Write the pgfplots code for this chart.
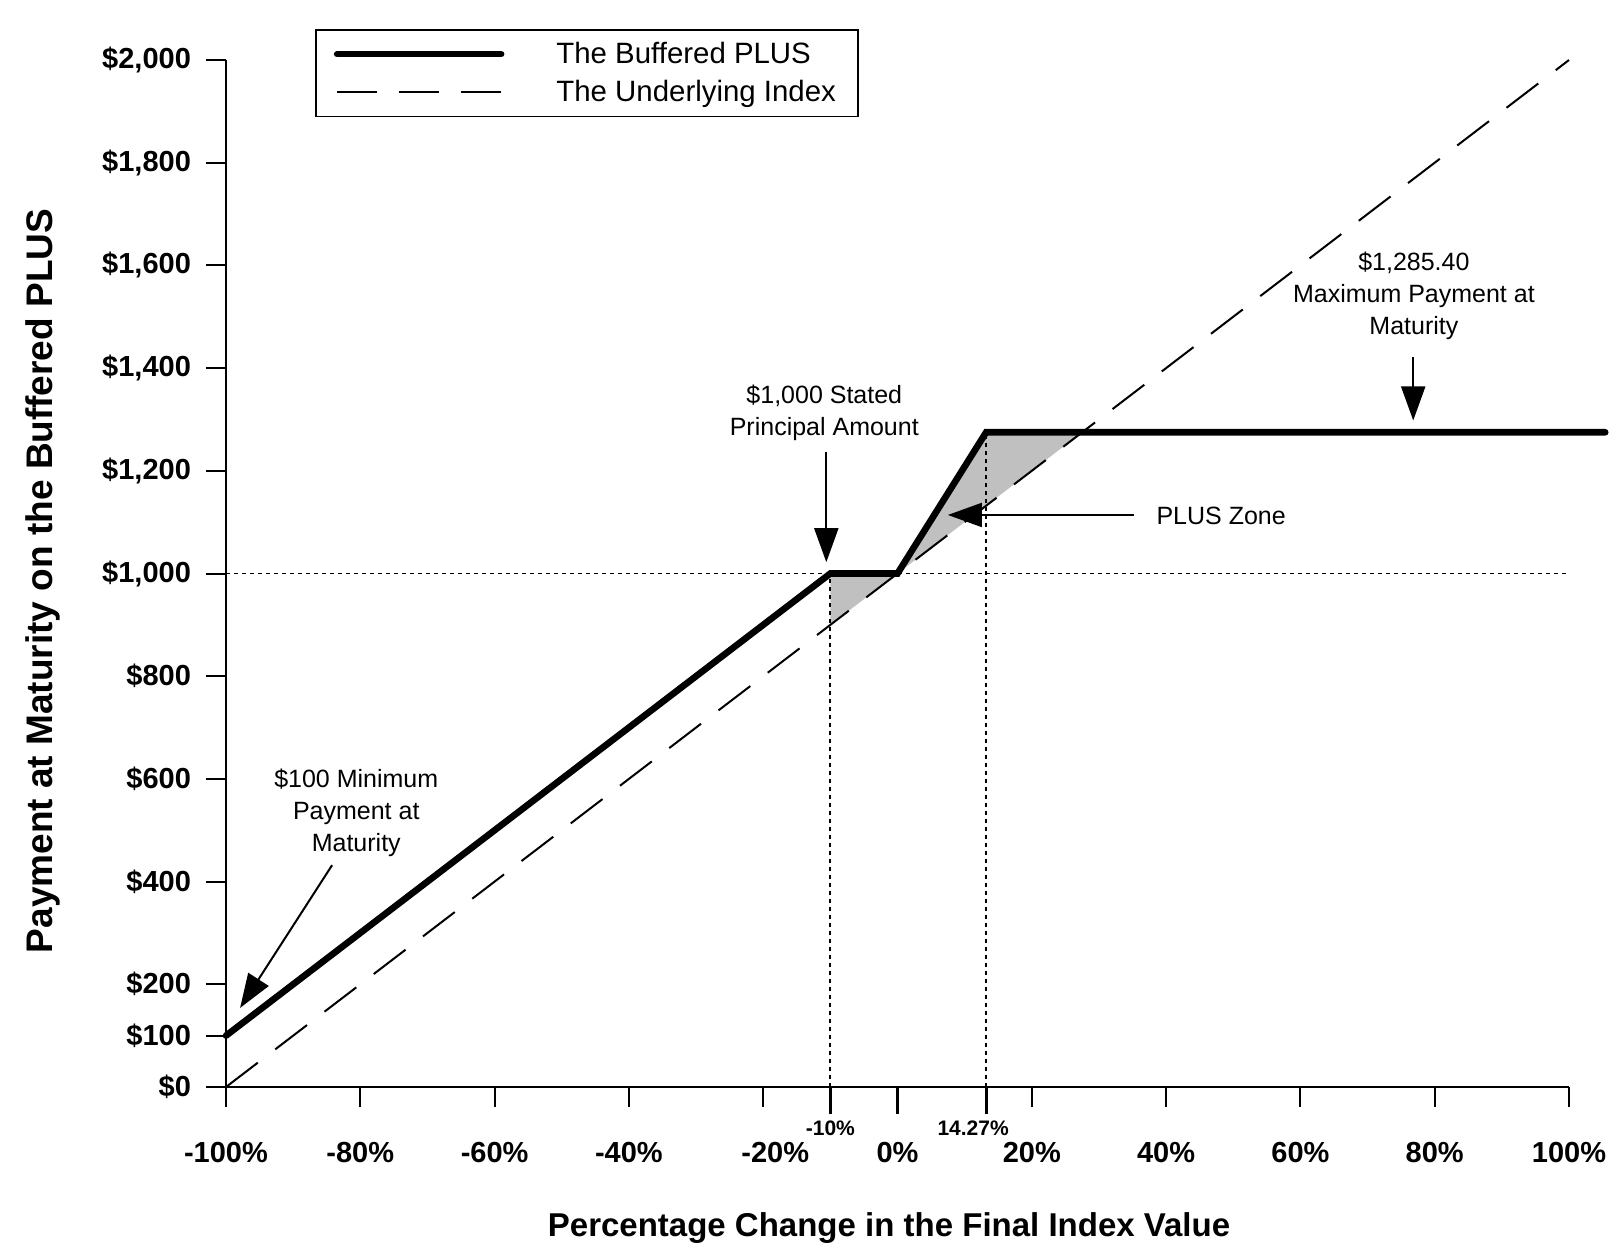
\documentclass[border=0pt]{standalone}
\usepackage{fontspec}
\setmainfont{Liberation Sans}
\usepackage{pgfplots}
\pgfplotsset{compat=1.18}
\usetikzlibrary{arrows.meta}
\definecolor{zone}{RGB}{192,192,192}
\begin{document}
\begin{tikzpicture}
\path[use as bounding box] (-113pt,-84pt) rectangle (695pt,543.5pt);
\begin{axis}[
 at={(0pt,0pt)}, anchor=south west,
 scale only axis, width=671.5pt, height=513.5pt,
 xmin=-100, xmax=100, ymin=0, ymax=2000,
 clip=false,
 axis x line=bottom, axis y line=left,
 axis line style={-, line width=1pt},
 tick align=outside,
 major tick length=10pt,
 tick style={line width=1pt, black},
 xtick={-100,-80,...,100},
 xticklabels={-100\%,-80\%,-60\%,-40\%,\hspace*{12pt}-20\%,0\%,20\%,40\%,60\%,80\%,100\%},
 ytick={0,100,200,400,600,800,1000,1200,1400,1600,1800,2000},
 yticklabels={\$0,\$100,\$200,\$400,\$600,\$800,{\$1,000},{\$1,200},{\$1,400},{\$1,600},{\$1,800},{\$2,000}},
 ticklabel style={font=\bfseries\fontsize{14.5}{16}\selectfont},
 xticklabel style={yshift=-14pt},
 yticklabel style={xshift=-4pt},
 extra x ticks={-10,0,13.2},
 extra x tick labels={-10\%,{},14.27\%\hspace*{13pt}},
 extra x tick style={major tick length=13.5pt, tick style={line width=1.6pt},
   xticklabel style={font=\bfseries\fontsize{10.5}{12}\selectfont, yshift=14pt}},
 xlabel={Percentage Change in the Final Index Value},
 ylabel={Payment at Maturity on the Buffered PLUS},
 xlabel style={font=\bfseries\fontsize{16.5}{18}\selectfont, at={(axis description cs:0.4937,-0.1373)}, anchor=center},
 ylabel style={font=\bfseries\fontsize{18.5}{20}\selectfont, at={(axis description cs:-0.1363,0.4927)}, anchor=center},
 legend style={at={(0.0663,1.030)}, anchor=north west, draw=black, line width=0.8pt,
   font=\fontsize{14.7}{16}\selectfont, inner xsep=9pt, inner ysep=4pt, row sep=3pt, column sep=24pt},
 legend cell align=left,
 legend image code/.code={\draw[#1] (0pt,0pt) -- (82pt,0pt);},
]
% shaded PLUS zone
\addplot[fill=zone, draw=none, forget plot] coordinates {(-10,1000) (0,1000) (-10,900)} -- cycle;
\addplot[fill=zone, draw=none, forget plot] coordinates {(0,1000) (13.2,1275) (27.5,1275)} -- cycle;
% dotted reference lines
\addplot[black, line width=0.9pt, dash pattern=on 2pt off 2pt, forget plot] coordinates {(-100,1000) (100,1000)};
\addplot[black, line width=0.9pt, dash pattern=on 2pt off 2pt, forget plot] coordinates {(-10,0) (-10,1000)};
\addplot[black, line width=0.9pt, dash pattern=on 2pt off 2pt, forget plot] coordinates {(13.2,0) (13.2,1275)};
% series
\addplot[black, line width=3.3pt, line cap=round, line join=miter] coordinates {(-100,100) (-10,1000) (0,1000) (13.2,1275) (105.4,1275)};
\addlegendentry{The Buffered PLUS}
\addplot[black, line width=1pt, dash pattern=on 20pt off 11pt] coordinates {(-100,0) (100,2000)};
\addlegendentry{The Underlying Index}
% annotations
\node[align=center, font=\fontsize{12.5}{16}\selectfont] at (axis cs:76.9,1540) {\$1,285.40\\Maximum Payment at\\Maturity};
\draw[line width=1pt, -{Triangle[length=17pt,width=12pt]}] (axis cs:76.8,1422) -- (axis cs:76.8,1298);
\node[align=center, font=\fontsize{12.5}{16}\selectfont] at (axis cs:-10.9,1313) {\$1,000 Stated\\Principal Amount};
\draw[line width=1pt, -{Triangle[length=17pt,width=12pt]}] (axis cs:-10.6,1237) -- (axis cs:-10.6,1022);
\node[font=\fontsize{12.5}{16}\selectfont] at (axis cs:48.2,1112) {PLUS Zone};
\draw[line width=1pt, -{Triangle[length=17pt,width=12pt]}] (axis cs:35.2,1114) -- (axis cs:7.5,1114);
\node[align=center, font=\fontsize{12.5}{16}\selectfont] at (axis cs:-80.6,534) {\$100 Minimum\\Payment at\\Maturity};
\draw[line width=1pt, -{Triangle[length=17pt,width=12pt]}] (axis cs:-84.2,432) -- (axis cs:-97.9,154);
\end{axis}
\end{tikzpicture}
\end{document}
